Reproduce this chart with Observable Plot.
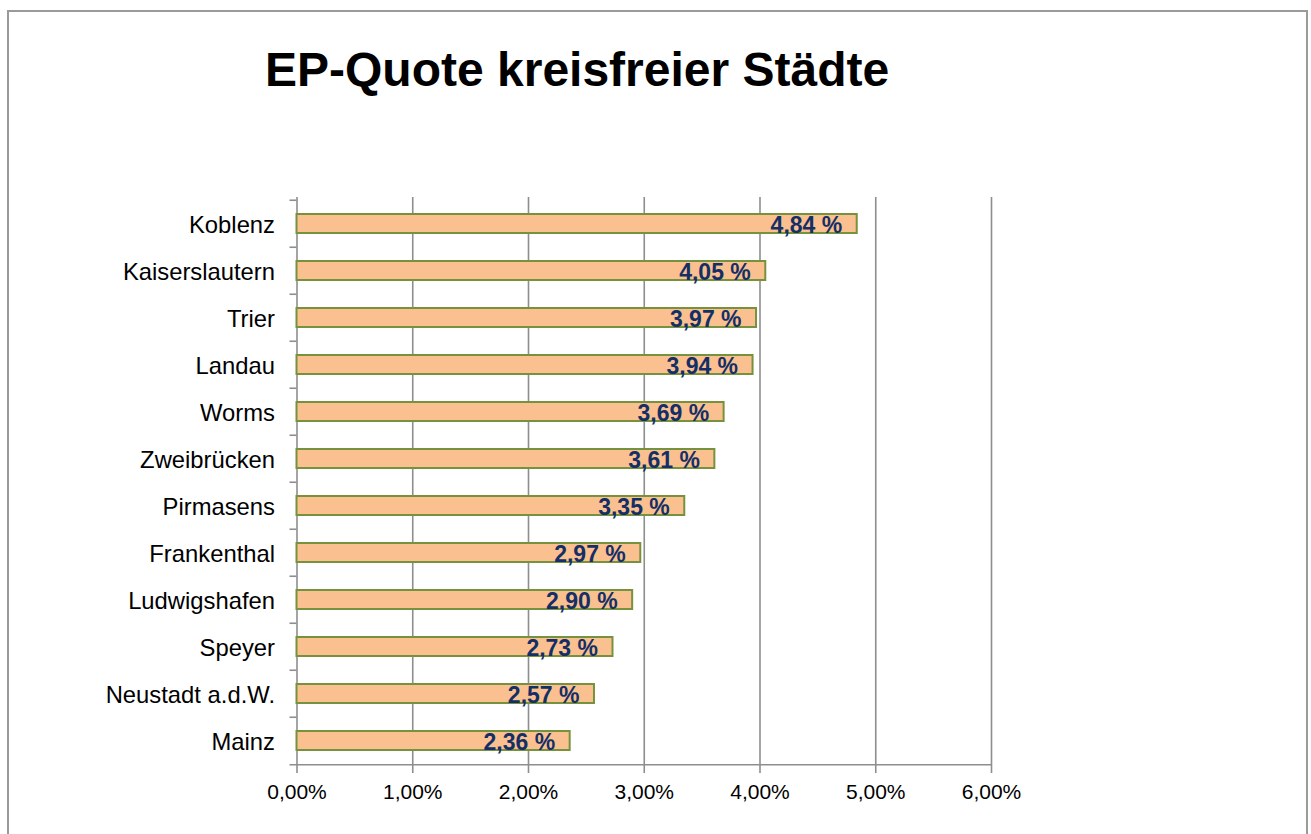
<!DOCTYPE html>
<html>
<head>
<meta charset="utf-8">
<script src="https://cdn.jsdelivr.net/npm/d3@7"></script>
<script src="https://cdn.jsdelivr.net/npm/@observablehq/plot@0.6"></script>
<style>
  html, body { margin: 0; padding: 0; background: #fff; overflow: hidden; }
  body { width: 1311px; height: 834px; position: relative; font-family: "Liberation Sans", Arial, sans-serif; }
  #frame { position: absolute; left: 7px; top: 10px; width: 1301px; height: 900px; border: 2px solid #9a9a9a; box-sizing: border-box; }
  #title { position: absolute; left: 265px; top: 46px; font-size: 48px; line-height: 48px; font-weight: bold; color: #000; white-space: nowrap; }
  #chart { position: absolute; left: 0; top: 150px; }
  #chart svg g[aria-label="y-axis tick label"] { font-size: 23.8px !important; }
  #chart svg g[aria-label="x-axis tick label"] { font-size: 21px !important; }
</style>
</head>
<body>
<div id="frame"></div>
<div id="title">EP-Quote kreisfreier Städte</div>
<div id="chart"></div>
<script>
const cities = ["Koblenz", "Kaiserslautern", "Trier", "Landau", "Worms", "Zweibrücken", "Pirmasens", "Frankenthal", "Ludwigshafen", "Speyer", "Neustadt a.d.W.", "Mainz"];
const quotes = [4.84, 4.05, 3.97, 3.94, 3.69, 3.61, 3.35, 2.97, 2.90, 2.73, 2.57, 2.36];
const xTicks = [0, 1, 2, 3, 4, 5, 6];
const xTickLabels = ["0,00%", "1,00%", "2,00%", "3,00%", "4,00%", "5,00%", "6,00%"];

const data = cities.map((c, i) => ({city: c, value: quotes[i]}));
const fmt = v => v.toFixed(2).replace(".", ",") + " %";

const W = 1311, H = 684, mT = 47, mB = 67, mL = 296.5, mR = 320;
const step = (H - mT - mB) / cities.length;
const grid = "#8e8e8e";

const chart = Plot.plot({
  width: W,
  height: H,
  marginTop: mT,
  marginBottom: mB,
  marginLeft: mL,
  marginRight: mR,
  style: {fontFamily: "'Liberation Sans', Arial, sans-serif", fontSize: "21px", color: "#000", background: "transparent", overflow: "visible"},
  x: {domain: [0, 6]},
  y: {domain: cities, padding: 0},
  marks: [
    Plot.ruleX(xTicks.slice(1), {stroke: grid, strokeWidth: 1.6}),
    Plot.ruleY(cities, {y: d => d, x1: 0, x2: 0, dy: -step / 2, insetLeft: -7, stroke: grid, strokeWidth: 1.6}),
    Plot.ruleY([cities[cities.length - 1]], {y: d => d, x1: 0, x2: 6, dy: step / 2, insetLeft: -7, stroke: grid, strokeWidth: 1.6}),
    Plot.ruleX([0], {stroke: grid, strokeWidth: 1.6}),
    Plot.barX(data, {x: "value", y: "city", fill: "#FAC090", stroke: "#76923C", strokeWidth: 2, insetTop: 14, insetBottom: 14}),
    Plot.text(data, {x: "value", y: "city", text: d => fmt(d.value), textAnchor: "end", dx: -15, dy: 2, fill: "#132F66", fontWeight: "bold", fontSize: 23}),
    Plot.axisX(xTicks, {tickFormat: (d, i) => xTickLabels[i], tickSize: 6, tickPadding: 11, stroke: grid, strokeWidth: 1.6, label: null}),
    Plot.axisY({tickSize: 0, tickPadding: 22, dy: 1.5, label: null})
  ]
});
document.getElementById("chart").appendChild(chart);
</script>
</body>
</html>
